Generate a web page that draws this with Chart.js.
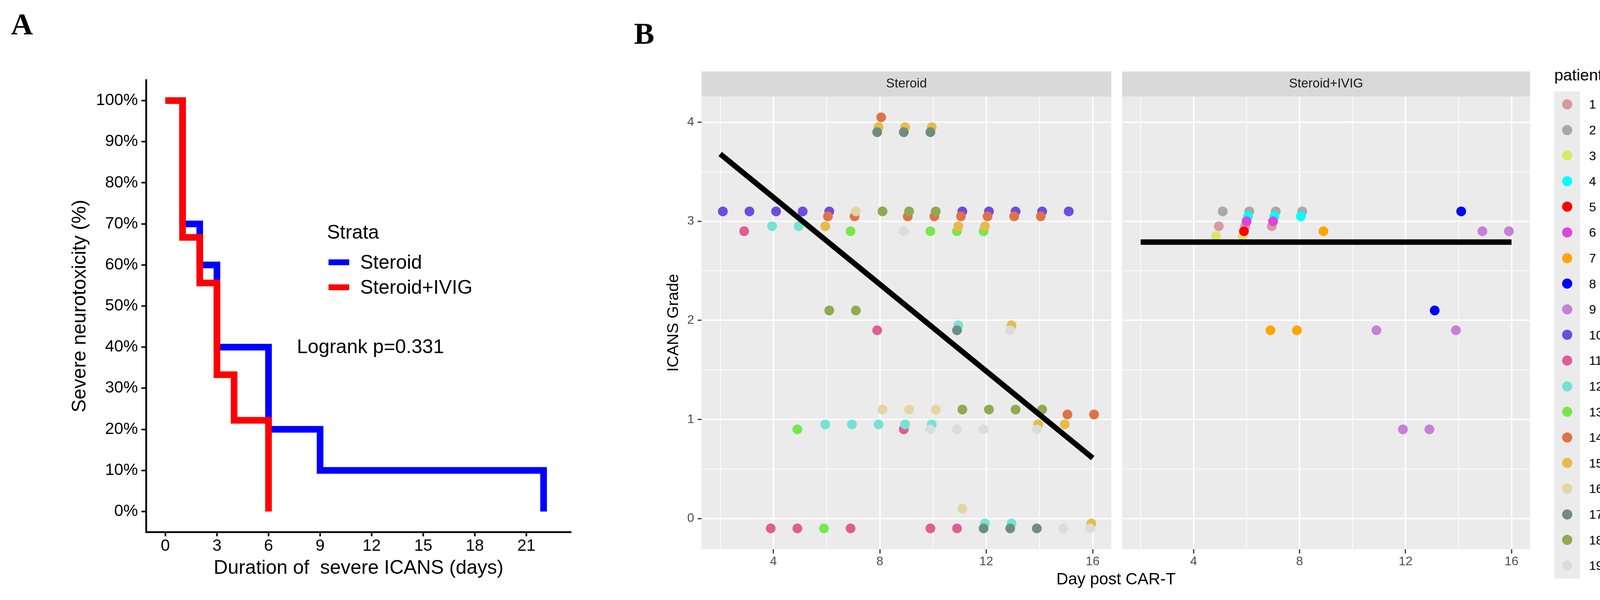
<!DOCTYPE html>
<html>
<head>
<meta charset="utf-8">
<script src="https://cdn.jsdelivr.net/npm/chart.js@4.4.1/dist/chart.umd.min.js"></script>
<style>
  html, body { margin: 0; padding: 0; background: #fff; }
  body { width: 4146px; height: 1536px; position: relative; overflow: hidden; font-family: "Liberation Sans", Arial, sans-serif; }
  canvas { position: absolute; top: 0; }
  .txt { position: absolute; white-space: pre; line-height: 1; color: #000; }
  .panel { font-family: "Liberation Serif", "Times New Roman", serif; font-weight: bold; font-size: 78px; }
</style>
</head>
<body>
<div class="txt panel" style="left:28px;top:23px">A</div>
<div class="txt panel" style="left:1623px;top:47px">B</div>
<canvas id="kmChart" width="1560" height="1536" style="left:0px"></canvas>
<canvas id="steroidChart" width="1260" height="1536" style="left:1600px"></canvas>
<canvas id="ivigChart" width="1070" height="1536" style="left:2860px"></canvas>
<div id="strataLegend"></div>
<div class="txt" style="left:2857px;top:1461px;font-size:42px;transform:translateX(-50%)">Day post CAR-T</div>
<div id="patientLegend"></div>
<script>
// Panel A: proportion still with severe neurotoxicity (Kaplan-Meier steps)
const strataNames = ['Steroid', 'Steroid+IVIG'];
const strataColors = ['#0000FF', '#FF0000'];
const steroidDays = [0, 1, 2, 3, 6, 9, 22];
const steroidPct = [100, 70, 60, 40, 20, 10, 0];
const ivigDays = [0, 1, 2, 3, 4, 6];
const ivigPct = [100, 66.7, 55.6, 33.3, 22.2, 0];
const kmTicksX = [0, 3, 6, 9, 12, 15, 18, 21];
const kmTicksY = [0, 10, 20, 30, 40, 50, 60, 70, 80, 90, 100];

// Panel B: ICANS grade by day post CAR-T, per patient (as plotted, with per-patient nudge)
const patients = ['1','2','3','4','5','6','7','8','9','10','11','12','13','14','15','16','17','18','19'];
const patientColors = ['#D89A9A', '#A8A8A8', '#D8E866', '#00FFFF', '#FF0000', '#DC46DB', '#FFA500', '#0000FF', '#C77FD9',
  '#6E4BE3', '#E15D94', '#74E3D4', '#77E84C', '#E07345', '#E7BB4A', '#E3D6A2', '#6E8E82', '#8FAA4F', '#D9DEDB'];
const pt1 = [[4.95, 2.95], [5.95, 2.95], [6.95, 2.95]];
const pt2 = [[5.1, 3.1], [6.1, 3.1], [7.1, 3.1], [8.1, 3.1]];
const pt3 = [[4.85, 2.85], [5.85, 2.85]];
const pt4 = [[6.05, 3.05], [7.05, 3.05], [8.05, 3.05]];
const pt5 = [[5.9, 2.9]];
const pt6 = [[6, 3], [7, 3]];
const pt7 = [[6.9, 1.9], [7.9, 1.9], [8.9, 2.9]];
const pt8 = [[13.1, 2.1], [14.1, 3.1]];
const pt9 = [[10.9, 1.9], [11.9, 0.9], [12.9, 0.9], [13.9, 1.9], [14.9, 2.9], [15.9, 2.9]];
const pt10 = [[2.1, 3.1], [3.1, 3.1], [4.1, 3.1], [5.1, 3.1], [6.1, 3.1], [11.1, 3.1], [12.1, 3.1], [13.1, 3.1], [14.1, 3.1], [15.1, 3.1]];
const pt11 = [[2.9, 2.9], [7.9, 1.9], [8.9, 0.9], [3.9, -0.1], [4.9, -0.1], [6.9, -0.1], [9.9, -0.1], [10.9, -0.1]];
const pt12 = [[3.95, 2.95], [4.95, 2.95], [10.95, 1.95], [5.95, 0.95], [6.95, 0.95], [7.95, 0.95], [8.95, 0.95], [9.95, 0.95], [11.95, -0.05], [12.95, -0.05]];
const pt13 = [[6.9, 2.9], [9.9, 2.9], [10.9, 2.9], [11.9, 2.9], [4.9, 0.9], [5.9, -0.1]];
const pt14 = [[8.05, 4.05], [6.05, 3.05], [7.05, 3.05], [9.05, 3.05], [10.05, 3.05], [11.05, 3.05], [12.05, 3.05], [13.05, 3.05], [14.05, 3.05], [15.05, 1.05], [16.05, 1.05]];
const pt15 = [[7.95, 3.95], [8.95, 3.95], [9.95, 3.95], [5.95, 2.95], [10.95, 2.95], [11.95, 2.95], [12.95, 1.95], [13.95, 0.95], [14.95, 0.95], [15.95, -0.05]];
const pt16 = [[7.1, 3.1], [8.1, 1.1], [9.1, 1.1], [10.1, 1.1], [11.1, 0.1]];
const pt17 = [[7.9, 3.9], [8.9, 3.9], [9.9, 3.9], [10.9, 1.9], [11.9, -0.1], [12.9, -0.1], [13.9, -0.1]];
const pt18 = [[8.1, 3.1], [9.1, 3.1], [10.1, 3.1], [6.1, 2.1], [7.1, 2.1], [11.1, 1.1], [12.1, 1.1], [13.1, 1.1], [14.1, 1.1]];
const pt19 = [[8.9, 2.9], [12.9, 1.9], [9.9, 0.9], [10.9, 0.9], [11.9, 0.9], [13.9, 0.9], [14.9, -0.1], [15.9, -0.1]];
const patientPoints = [pt1, pt2, pt3, pt4, pt5, pt6, pt7, pt8, pt9, pt10, pt11, pt12, pt13, pt14, pt15, pt16, pt17, pt18, pt19];
const steroidPatients = ['10','11','12','13','14','15','16','17','18','19'];
const ivigPatients = ['1','2','3','4','5','6','7','8','9'];
const steroidFitX = [2, 16];
const steroidFitY = [3.68, 0.61];
const ivigFitX = [2, 16];
const ivigFitY = [2.79, 2.79];
const dayTicks = [2, 4, 6, 8, 10, 12, 14, 16];
const gradeTicks = [0, 0.5, 1, 1.5, 2, 2.5, 3, 3.5, 4];

const FONT = '"Liberation Sans", Arial, sans-serif';
Chart.defaults.font.family = FONT;

// grey panel + facet strip behind a chart area
const facetPlugin = {
  id: 'facet',
  beforeDraw(chart, args, opts) {
    const c = chart.ctx, a = chart.chartArea;
    c.save();
    c.fillStyle = '#EBEBEB';
    c.fillRect(a.left, a.top, a.right - a.left, a.bottom - a.top);
    c.fillStyle = '#D9D9D9';
    c.fillRect(a.left, a.top - 64, a.right - a.left, 64);
    c.fillStyle = '#1A1A1A';
    c.font = '33px ' + FONT;
    c.textAlign = 'center';
    c.textBaseline = 'middle';
    c.fillText(opts.label, (a.left + a.right) / 2, a.top - 32);
    c.restore();
  }
};

// text placed at data coordinates
const notePlugin = {
  id: 'note',
  afterDatasetsDraw(chart, args, opts) {
    const c = chart.ctx;
    c.save();
    c.fillStyle = '#000';
    c.font = '50px ' + FONT;
    c.textAlign = 'center';
    c.textBaseline = 'alphabetic';
    c.fillText(opts.text, chart.scales.x.getPixelForValue(opts.x), chart.scales.y.getPixelForValue(opts.y));
    c.restore();
  }
};

const toXY = (xs, ys) => xs.map((x, i) => ({x: x, y: ys[i]}));

// ---- Panel A ----
const kmCtx = document.getElementById('kmChart').getContext('2d');
const kmChart = new Chart(kmCtx, {
  type: 'line',
  data: {
    datasets: [{
      label: strataNames[0],
      data: toXY(steroidDays, steroidPct),
      borderColor: strataColors[0],
      borderWidth: 17,
      stepped: true,
      pointRadius: 0,
      borderCapStyle: 'butt',
      borderJoinStyle: 'miter',
      order: 2
    }, {
      label: strataNames[1],
      data: toXY(ivigDays, ivigPct),
      borderColor: strataColors[1],
      borderWidth: 17,
      stepped: true,
      pointRadius: 0,
      borderCapStyle: 'butt',
      borderJoinStyle: 'miter',
      order: 1
    }]
  },
  options: {
    responsive: false,
    devicePixelRatio: 1,
    animation: false,
    events: [],
    layout: { padding: { left: 180, top: 205, right: 98, bottom: 56 } },
    plugins: {
      legend: { display: false },
      tooltip: { enabled: false },
      note: { text: 'Logrank p=0.331', x: 11.93, y: 38.5 }
    },
    scales: {
      x: {
        type: 'linear',
        min: -1.12,
        max: 23.6,
        afterBuildTicks: s => { s.ticks = kmTicksX.map(v => ({value: v})); },
        afterFit: s => { s.height = 118; },
        border: { display: true, color: '#000', width: 4.5 },
        grid: { drawOnChartArea: false, drawTicks: true, tickLength: 11, tickWidth: 4, tickColor: '#000' },
        ticks: { color: '#000', font: { size: 42 }, padding: 0, autoSkip: false, maxRotation: 0 },
        title: { display: true, text: 'Duration of  severe ICANS (days)', color: '#000', font: { size: 50, lineHeight: 1 }, padding: 0 }
      },
      y: {
        type: 'linear',
        min: -5,
        max: 105,
        afterBuildTicks: s => { s.ticks = kmTicksY.map(v => ({value: v})); },
        afterFit: s => { s.width = 194; },
        border: { display: true, color: '#000', width: 4.5 },
        grid: { drawOnChartArea: false, drawTicks: true, tickLength: 12, tickWidth: 4, tickColor: '#000' },
        ticks: { color: '#000', font: { size: 42 }, padding: 9, autoSkip: false, callback: v => v + '%' },
        title: { display: true, text: 'Severe neurotoxicity (%)', color: '#000', font: { size: 50, lineHeight: 1 }, padding: 0 }
      }
    }
  },
  plugins: [notePlugin]
});

// strata legend
const sl = document.getElementById('strataLegend');
let html = '<div class="txt" style="left:837px;top:569px;font-size:50px">Strata</div>';
strataNames.forEach((name, i) => {
  const cy = 671 + i * 64;
  html += '<div style="position:absolute;left:841px;top:' + (cy - 7.5) + 'px;width:53px;height:15px;background:' + strataColors[i] + '"></div>';
  html += '<div class="txt" style="left:922px;top:' + (cy - 25) + 'px;font-size:50px">' + name + '</div>';
});
sl.innerHTML = html;

// ---- Panel B ----
function facetChart(id, members, fitX, fitY, label, showY) {
  const datasets = members.map(p => {
    const i = patients.indexOf(p);
    return {
      label: p,
      data: patientPoints[i].map(d => ({x: d[0], y: d[1]})),
      backgroundColor: patientColors[i],
      pointBackgroundColor: patientColors[i],
      pointRadius: 12.5,
      pointBorderWidth: 0,
      order: 100 - i
    };
  });
  datasets.push({
    label: 'fit',
    type: 'line',
    data: toXY(fitX, fitY),
    showLine: true,
    borderColor: '#000',
    borderWidth: 14,
    borderCapStyle: 'butt',
    pointRadius: 0,
    order: 0
  });
  const major = v => v % 4 === 0;
  const ctx = document.getElementById(id).getContext('2d');
  return new Chart(ctx, {
    type: 'scatter',
    data: { datasets: datasets },
    options: {
      responsive: false,
      devicePixelRatio: 1,
      animation: false,
      events: [],
      layout: { padding: showY ? { left: 104, top: 247, right: 15, bottom: 50 } : { left: 6, top: 247, right: 13, bottom: 50 } },
      plugins: { legend: { display: false }, tooltip: { enabled: false }, facet: { label: label } },
      scales: {
        x: {
          type: 'linear',
          min: 1.3,
          max: 16.7,
          afterBuildTicks: s => { s.ticks = dayTicks.map(v => ({value: v})); },
          afterFit: s => { s.height = 80; },
          border: { display: false },
          grid: {
            color: '#FFFFFF',
            lineWidth: c => (c.tick && major(c.tick.value)) ? 3.6 : 1.8,
            drawTicks: true,
            tickLength: 11,
            tickWidth: 3,
            tickColor: c => (c.tick && major(c.tick.value)) ? '#333333' : 'rgba(0,0,0,0)'
          },
          ticks: { color: '#4D4D4D', font: { size: 32 }, padding: 2, autoSkip: false, maxRotation: 0, callback: v => major(v) ? String(v) : '' }
        },
        y: {
          type: 'linear',
          min: -0.31,
          max: 4.26,
          afterBuildTicks: s => { s.ticks = gradeTicks.map(v => ({value: v})); },
          afterFit: s => { s.width = showY ? 92 : 0; },
          border: { display: false },
          grid: {
            color: '#FFFFFF',
            lineWidth: c => (c.tick && Number.isInteger(c.tick.value)) ? 3.6 : 1.8,
            drawTicks: showY,
            tickLength: 10,
            tickWidth: 3,
            tickColor: c => (c.tick && Number.isInteger(c.tick.value)) ? '#333333' : 'rgba(0,0,0,0)'
          },
          ticks: { display: showY, color: '#4D4D4D', font: { size: 32 }, padding: 9, autoSkip: false, callback: v => Number.isInteger(v) ? String(v) : '' },
          title: { display: showY, text: 'ICANS Grade', color: '#000', font: { size: 41, lineHeight: 1 }, padding: 0 }
        }
      }
    },
    plugins: [facetPlugin]
  });
}

const steroidChart = facetChart('steroidChart', steroidPatients, steroidFitX, steroidFitY, 'Steroid', true);
const ivigChart = facetChart('ivigChart', ivigPatients, ivigFitX, ivigFitY, 'Steroid+IVIG', false);

// patient legend
const pl = document.getElementById('patientLegend');
let lh = '<div class="txt" style="left:3979px;top:172px;font-size:41px">patient</div>';
patients.forEach((p, i) => {
  const cy = 267 + i * 65.6;
  lh += '<div style="position:absolute;left:3979px;top:' + (cy - 32.8) + 'px;width:66px;height:65.6px;background:#EBEBEB"></div>';
  lh += '<div style="position:absolute;left:3999px;top:' + (cy - 13) + 'px;width:26px;height:26px;border-radius:50%;background:' + patientColors[i] + '"></div>';
  lh += '<div class="txt" style="left:4068px;top:' + (cy - 15.6) + 'px;font-size:32px">' + p + '</div>';
});
pl.innerHTML = lh;
</script>
</body>
</html>
